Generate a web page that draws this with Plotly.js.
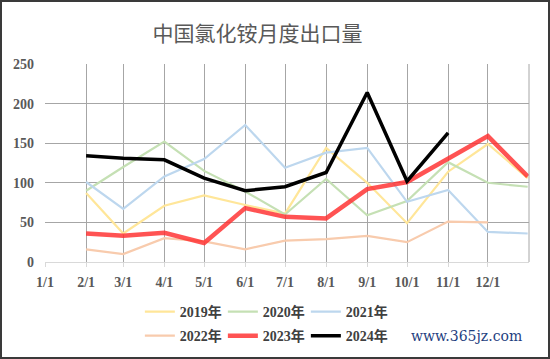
<!DOCTYPE html>
<html><head><meta charset="utf-8">
<script src="https://cdn.plot.ly/plotly-3.0.1.min.js"></script>
<style>
html,body{margin:0;padding:0;background:#fff;}
#wrap{position:relative;width:550px;height:359px;}
#chart{width:550px;height:359px;}
#frame{position:absolute;left:0;top:0;width:550px;height:359px;box-sizing:border-box;border:2px solid #3a3a3a;pointer-events:none;}
</style></head>
<body>
<div id="wrap"><div id="chart"></div><div id="frame"></div></div>
<script>
// x positions: data dated on month starts (plus year end)
const dates = ["2023-02-01","2023-03-01","2023-04-01","2023-05-01","2023-06-01","2023-07-01","2023-08-01","2023-09-01","2023-10-01","2023-11-01","2023-12-01","2023-12-31"];
const tickDates = ["2023-01-01","2023-02-01","2023-03-01","2023-04-01","2023-05-01","2023-06-01","2023-07-01","2023-08-01","2023-09-01","2023-10-01","2023-11-01","2023-12-01"];
const tickLabels = ["1/1","2/1","3/1","4/1","5/1","6/1","7/1","8/1","9/1","10/1","11/1","12/1"];

const y2019 = [87, 36, 71, 84, 72, 61, 144, 100, 49, 114, 149, 106];
const y2020 = [90, 120, 152, 115, 89, 60, 105, 59, 77, 126, 100, 95];
const y2021 = [101, 67, 108, 130, 173, 119, 138, 144, 76, 91, 38, 36];
const y2022 = [16, 10, 30, 26, 16, 27, 29, 33, 25, 51, 50];
const y2023 = [36, 33, 37, 24, 68, 57, 55, 92, 101, 130, 159, 108];
const y2024 = [134, 131, 129, 106, 90, 95, 113, 214, 102, 163];

const names = ["2019年","2020年","2021年","2022年","2023年","2024年"];
const series = [y2019, y2020, y2021, y2022, y2023, y2024];
const colors = ["#FFE699","#C5E0B4","#BDD7EE","#F8CBAD","rgba(255,45,45,0.82)","#000000"];
const widths = [2.2, 2.2, 2.2, 2.2, 4.5, 3.5];
const legends = ["legend","legend","legend","legend2","legend2","legend2"];

const traces = series.map((s, i) => ({
  type: "scatter", mode: "lines",
  x: dates.slice(0, s.length), y: s,
  name: names[i],
  line: {color: colors[i], width: widths[i]},
  legend: legends[i],
  hoverinfo: "skip"
}));

const tickFont = {family: "Liberation Serif, Times New Roman, serif", size: 14, color: "#595959", weight: "bold"};
const legFont = {family: "Liberation Serif, Noto Sans CJK SC, serif", size: 14, color: "#404040", weight: "bold"};

const layout = {
  width: 550, height: 359,
  margin: {l: 45, r: 21, t: 64, b: 97, autoexpand: false},
  paper_bgcolor: "#fff", plot_bgcolor: "#fff",
  title: {text: "中国氯化铵月度出口量", x: 0.468, xanchor: "center", y: 0.905, yanchor: "middle",
          font: {family: "Noto Sans CJK SC", size: 21, color: "#595959"}},
  xaxis: {
    type: "date", range: ["2023-01-01", "2024-01-01"],
    tickmode: "array", tickvals: tickDates, ticktext: tickLabels,
    tickfont: tickFont, ticklabelstandoff: 3,
    showgrid: true, gridcolor: "#A6A6A6", gridwidth: 1,
    showline: true, linecolor: "#D9D9D9", linewidth: 1,
    ticks: "outside", ticklen: 4, tickcolor: "#D9D9D9",
    zeroline: false, fixedrange: true, automargin: false
  },
  yaxis: {
    range: [0, 250], dtick: 50, tick0: 0,
    tickfont: tickFont,
    showgrid: true, gridcolor: "#A6A6A6", gridwidth: 1,
    zeroline: false, showline: false, ticks: "", ticklabelstandoff: 10,
    fixedrange: true, automargin: false
  },
  shapes: [{type: "line", xref: "paper", yref: "paper", x0: 1, x1: 1, y0: 0, y1: 1,
            line: {color: "#A6A6A6", width: 1}}],
  legend: {orientation: "h", x: 0.196, xanchor: "left", y: -0.253, yanchor: "middle",
           font: legFont, entrywidth: 38, entrywidthmode: "pixels", bgcolor: "rgba(0,0,0,0)",
           itemwidth: 30, tracegroupgap: 0},
  legend2: {orientation: "h", x: 0.196, xanchor: "left", y: -0.374, yanchor: "middle",
           font: legFont, entrywidth: 38, entrywidthmode: "pixels", bgcolor: "rgba(0,0,0,0)",
           itemwidth: 30, tracegroupgap: 0},
  annotations: [{text: "www.365jz.com", xref: "paper", yref: "paper", x: 0.87, y: -0.374,
                 xanchor: "center", yanchor: "middle", showarrow: false,
                 font: {family: "DejaVu Serif, serif", size: 14, color: "#1F3F7F"}}]
};

Plotly.newPlot("chart", traces, layout, {displayModeBar: false, staticPlot: true});
</script>
</body></html>
